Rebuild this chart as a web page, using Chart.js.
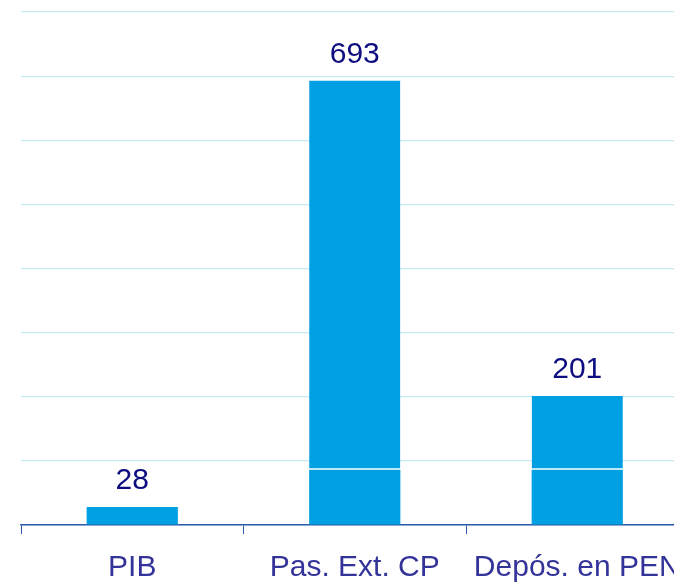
<!DOCTYPE html>
<html>
<head>
<meta charset="utf-8">
<script src="https://cdn.jsdelivr.net/npm/chart.js@4/dist/chart.umd.min.js"></script>
<style>
  html, body { margin: 0; padding: 0; background: #fff; overflow: hidden; }
  canvas { display: block; }
</style>
</head>
<body>
<canvas id="myChart" width="674" height="584"></canvas>
<script>
let categorias = ["PIB", "Pas. Ext. CP", "Depós. en PEN"];
let totales = [28, 693, 201];
let tramoInferior = [28, 86, 86];
let tramoSuperior = [null, 607, 115];

let azulBarra = "rgb(0,160,227)";
let fuente = "'Liberation Sans', Arial, sans-serif";
let anchoCategoria = 222.5;

// escribe el total encima de cada barra
let etiquetasTotales = {
    id: "etiquetasTotales",
    afterDatasetsDraw(chart) {
        let ctx = chart.ctx;
        ctx.save();
        ctx.font = "30px " + fuente;
        ctx.fillStyle = "#0d0d80";
        ctx.textAlign = "center";
        ctx.textBaseline = "alphabetic";
        totales.forEach((t, i) => {
            let y = chart.scales.y.getPixelForValue(t);
            let x = chart.scales.x.getPixelForValue(i);
            ctx.fillText(String(t), x, y - 18);
        });
        ctx.restore();
    }
};

// el gráfico original sigue más allá del borde derecho: se alarga el área
let extenderArea = {
    id: "extenderArea",
    afterLayout(chart) {
        let area = chart.chartArea;
        let derecha = area.left + anchoCategoria * categorias.length;
        area.right = derecha;
        area.width = derecha - area.left;
        let sx = chart.scales.x;
        sx.right = derecha;
        sx.width = derecha - sx.left;
        sx.configure();
    }
};

let ctx = document.querySelector("#myChart");
let myChart = new Chart(ctx, {
    type: "bar",
    data: {
        labels: categorias,
        datasets: [
            {
                data: tramoInferior,
                backgroundColor: azulBarra,
                borderWidth: 0,
                barPercentage: 0.41,
                categoryPercentage: 1
            },
            {
                data: tramoSuperior,
                backgroundColor: azulBarra,
                borderColor: "#ffffff",
                borderWidth: { top: 0, left: 0, right: 0, bottom: 1.5 },
                borderSkipped: false,
                barPercentage: 0.41,
                categoryPercentage: 1
            }
        ]
    },
    options: {
        responsive: false,
        animation: false,
        layout: { padding: { top: 12, left: 21, right: 0, bottom: 0 } },
        plugins: {
            legend: { display: false },
            tooltip: { enabled: false }
        },
        scales: {
            x: {
                stacked: true,
                afterFit(scale) {
                    scale.height = 59;
                    scale.paddingRight = 0;
                    scale.paddingLeft = 0;
                },
                grid: {
                    drawOnChartArea: false,
                    drawTicks: true,
                    tickLength: 9,
                    color: "#2a5aa8",
                    lineWidth: 1
                },
                border: { display: true, color: "#2a5aa8", width: 1.5 },
                ticks: {
                    padding: 16,
                    color: "#333399",
                    maxRotation: 0,
                    autoSkip: false,
                    font: { family: fuente, size: 30 }
                }
            },
            y: {
                stacked: true,
                min: 0,
                max: 800,
                ticks: { display: false, stepSize: 100 },
                grid: { color: "#c8e8f6", lineWidth: 1.2, drawTicks: false },
                border: { display: false }
            }
        }
    },
    plugins: [etiquetasTotales, extenderArea]
});
</script>
</body>
</html>
